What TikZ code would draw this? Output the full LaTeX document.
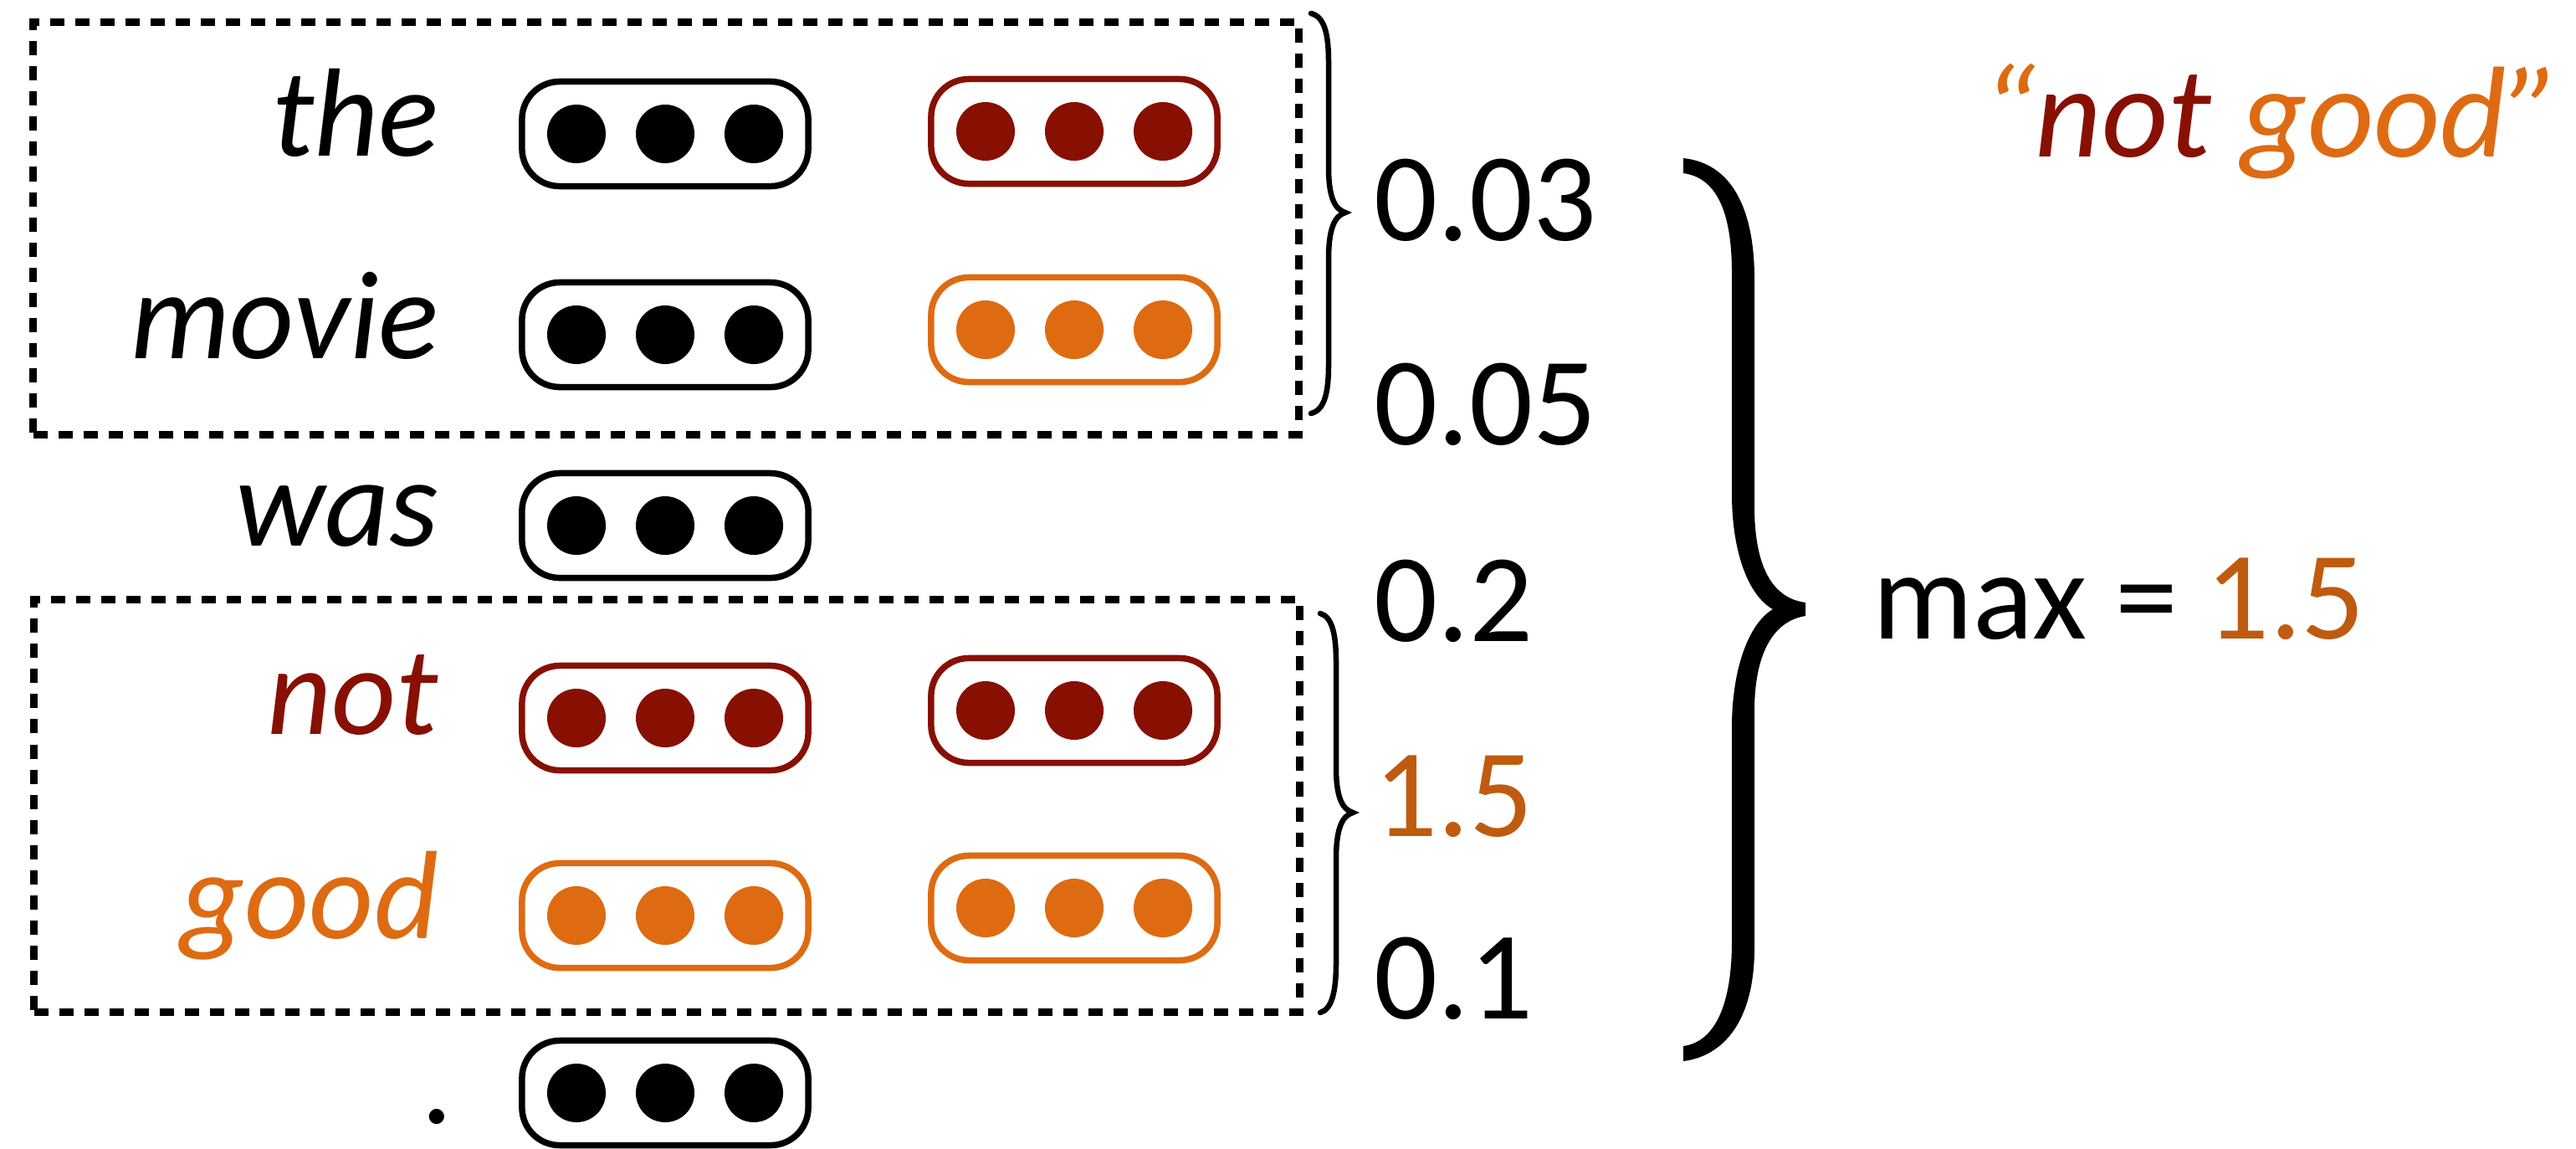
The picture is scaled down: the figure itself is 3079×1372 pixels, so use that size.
\documentclass[tikz,border=0pt]{standalone}
\usepackage{fontspec}
\setmainfont{Carlito}
\definecolor{dred}{RGB}{135,16,3}
\definecolor{dorange}{RGB}{222,107,18}
\definecolor{numorange}{RGB}{191,91,15}
\newcommand\wordfont{\fontsize{42.7}{50}\selectfont\itshape}
\newcommand\numfont{\fontsize{42.7}{50}\selectfont}
\newcommand\threedots[2]{%
  \foreach \i/\dx in {1/-106,2/0,3/106}{\node[dot, fill=#2] (#1d\i) at ([shift={(\dx,0)}]#1.center) {};}}
\begin{document}
\begin{tikzpicture}[x=0.01cm,y=-0.01cm,
  pill/.style={draw, line width=0.075cm, rounded corners=0.45cm, minimum width=3.42cm, minimum height=1.25cm, inner sep=0},
  dot/.style={circle, minimum size=0.7cm, inner sep=0},
  word/.style={anchor=base east, inner sep=0, font=\wordfont},
  num/.style={anchor=base west, inner sep=0, font=\numfont},
  dashbox/.style={draw, line width=0.095cm, dash pattern=on 0.17cm off 0.13cm, minimum width=15.12cm, minimum height=4.93cm, inner sep=0},
  smallbrace/.style={line width=0.065cm, line cap=round}
]
\useasboundingbox (0,0) rectangle (3079,1372);

% dashed group boxes
\node[dashbox] (boxtop) at (796,273) {};
\node[dashbox] (boxbot) at (797,963) {};

% words
\node[word] (wthe) at (525,186) {the};
\node[word] (wmovie) at (525,428) {movie};
\node[word] (wwas) at (525,652) {was};
\node[word, text=dred] (wnot) at (525,877) {not};
\node[word, text=dorange] (wgood) at (525,1121) {good};
\node[word] (wdot) at (545,1342) {.};

% column 1 pills
\node[pill] (a1) at (795,160) {};  \threedots{a1}{black}
\node[pill] (a2) at (795,400) {};  \threedots{a2}{black}
\node[pill] (a3) at (795,628) {};  \threedots{a3}{black}
\node[pill, draw=dred] (a4) at (795,858) {};  \threedots{a4}{dred}
\node[pill, draw=dorange] (a5) at (795,1094) {};  \threedots{a5}{dorange}
\node[pill] (a6) at (795,1306) {};  \threedots{a6}{black}

% column 2 pills
\node[pill, draw=dred] (b1) at (1284,157) {};  \threedots{b1}{dred}
\node[pill, draw=dorange] (b2) at (1284,394) {};  \threedots{b2}{dorange}
\node[pill, draw=dred] (b4) at (1284,849) {};  \threedots{b4}{dred}
\node[pill, draw=dorange] (b5) at (1284,1085) {};  \threedots{b5}{dorange}

% small braces
\draw[smallbrace] (1567,16) .. controls (1583,20) and (1588,40) .. (1588,75) -- (1588,200)
  .. controls (1588,235) and (1595,250) .. (1608,254)
  .. controls (1595,258) and (1588,273) .. (1588,310) -- (1588,435)
  .. controls (1588,470) and (1583,490) .. (1567,494);
\draw[smallbrace] (1578,733) .. controls (1592,737) and (1597,757) .. (1597,792) -- (1597,917)
  .. controls (1597,952) and (1604,967) .. (1617,971)
  .. controls (1604,975) and (1597,990) .. (1597,1027) -- (1597,1150)
  .. controls (1597,1185) and (1592,1206) .. (1578,1210);

% scores
\node[num] (s1) at (1642,287) {0.03};
\node[num] (s2) at (1642,531) {0.05};
\node[num] (s3) at (1642,766) {0.2};
\node[num, text=numorange] (s4) at (1642,999) {1.5};
\node[num] (s5) at (1642,1217) {0.1};

% big brace
\fill[line join=round] (2012,189)
  .. controls (2070,195) and (2097,250) .. (2097,333)
  -- (2097,605)
  .. controls (2097,680) and (2120,715) .. (2158,720)
  -- (2158,736)
  .. controls (2120,742) and (2097,780) .. (2097,850)
  -- (2097,1133)
  .. controls (2097,1220) and (2060,1262) .. (2012,1268)
  -- (2012,1250)
  .. controls (2050,1245) and (2070,1200) .. (2070,1125)
  -- (2070,869)
  .. controls (2070,800) and (2090,745) .. (2119,728)
  .. controls (2090,712) and (2070,660) .. (2070,590)
  -- (2070,326)
  .. controls (2070,250) and (2050,212) .. (2012,207)
  -- cycle;

% result
\node[num] (maxres) at (2238,763) {max = \textcolor{numorange}{1.5}};
\node[anchor=base east, inner sep=0, font={\fontsize{44}{50}\selectfont\itshape}] (phrase) at (3062,187)
  {\textcolor{dorange}{“}\textcolor{dred}{not} \textcolor{dorange}{good”}};
\end{tikzpicture}
\end{document}
